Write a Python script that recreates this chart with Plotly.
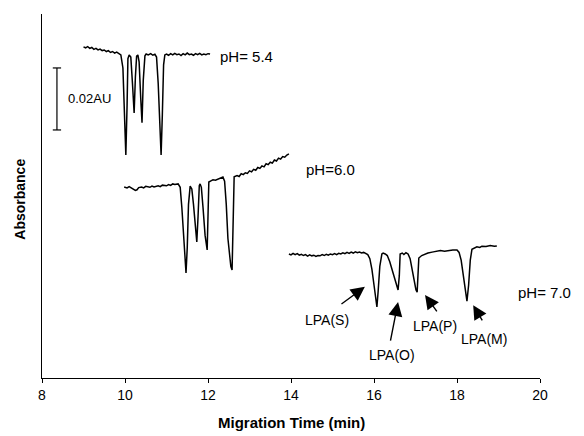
import plotly.graph_objects as go

# ---- data (migration time in min, absorbance in mAU, offset traces) ----
t_54 = [9.00, 9.05, 9.10, 9.15, 9.20, 9.25, 9.30, 9.35, 9.40, 9.45, 9.50, 9.55, 9.60, 9.65,
        9.70, 9.75, 9.80, 9.85, 9.90, 9.95, 9.98, 10.02, 10.05, 10.07, 10.10, 10.14, 10.18,
        10.22, 10.25, 10.28, 10.31, 10.34, 10.38, 10.41, 10.44, 10.48, 10.51, 10.56, 10.62,
        10.67, 10.72, 10.76, 10.80, 10.84, 10.87, 10.90, 10.93, 10.96, 11.00, 11.05, 11.10,
        11.15, 11.20, 11.25, 11.30, 11.35, 11.40, 11.45, 11.50, 11.55, 11.60, 11.65, 11.70,
        11.75, 11.80, 11.85, 11.90, 11.95, 12.00, 12.05]
a_54 = [106.8, 106.5, 106.9, 106.3, 106.6, 106.0, 106.3, 105.8, 106.1, 105.6, 105.8, 105.3,
        105.6, 105.0, 105.3, 104.8, 105.1, 104.6, 104.2, 100.0, 88.0, 71.9, 88.0, 103.0, 104.2,
        103.5, 95.0, 85.5, 97.0, 103.8, 104.2, 102.0, 90.0, 82.3, 96.0, 103.9, 104.5, 104.2,
        104.6, 104.1, 104.4, 103.5, 95.0, 82.0, 71.9, 85.0, 101.0, 104.2, 104.5, 104.1, 104.6,
        104.2, 104.7, 104.3, 104.5, 104.0, 104.6, 104.2, 104.8, 104.3, 104.5, 104.1, 104.6,
        104.3, 104.7, 104.2, 104.5, 104.3, 104.6, 104.5]

t_60 = [9.98, 10.05, 10.10, 10.15, 10.20, 10.25, 10.29, 10.33, 10.40, 10.45, 10.50, 10.60,
        10.65, 10.70, 10.80, 10.85, 10.90, 11.00, 11.05, 11.10, 11.15, 11.20, 11.28, 11.33,
        11.37, 11.41, 11.44, 11.47, 11.50, 11.53, 11.57, 11.61, 11.65, 11.70, 11.73, 11.76,
        11.79, 11.81, 11.84, 11.88, 11.93, 11.98, 12.00, 12.02, 12.07, 12.12, 12.18, 12.24,
        12.30, 12.36, 12.40, 12.44, 12.48, 12.52, 12.55, 12.58, 12.61, 12.63, 12.70, 12.75,
        12.80, 12.85, 12.90, 12.95, 13.00, 13.05, 13.10, 13.15, 13.20, 13.25, 13.30, 13.35,
        13.40, 13.45, 13.50, 13.55, 13.60, 13.65, 13.70, 13.75, 13.80, 13.85, 13.90, 13.95]
a_60 = [61.6, 61.3, 61.7, 61.2, 61.0, 60.5, 60.7, 61.4, 61.6, 61.3, 61.8, 61.5, 61.9, 61.6,
        62.0, 61.7, 62.2, 62.0, 62.4, 62.1, 62.6, 62.4, 62.6, 61.5, 55.0, 45.0, 38.0, 33.9,
        42.0, 56.0, 61.9, 61.0, 56.0, 48.0, 43.9, 52.0, 62.0, 62.6, 61.5, 55.0, 46.0, 41.3,
        50.0, 63.2, 63.6, 63.9, 63.8, 64.2, 64.6, 64.8, 63.5, 56.0, 45.0, 40.0, 36.0, 34.8,
        48.0, 64.9, 65.3, 65.0, 65.9, 65.6, 66.2, 66.0, 66.8, 66.5, 67.3, 67.0, 67.9, 67.6,
        68.4, 68.1, 69.1, 68.8, 69.6, 69.3, 70.3, 70.0, 70.9, 70.6, 71.4, 71.2, 71.9, 72.3]

t_70 = [13.95, 14.00, 14.05, 14.10, 14.15, 14.20, 14.25, 14.30, 14.35, 14.40, 14.45, 14.50,
        14.55, 14.60, 14.65, 14.70, 14.75, 14.80, 14.85, 14.90, 14.95, 15.00, 15.05, 15.10,
        15.15, 15.20, 15.25, 15.30, 15.35, 15.40, 15.45, 15.50, 15.55, 15.60, 15.65, 15.70,
        15.75, 15.80, 15.85, 15.90, 15.95, 16.00, 16.04, 16.07, 16.10, 16.14, 16.19, 16.22,
        16.27, 16.32, 16.38, 16.45, 16.52, 16.58, 16.61, 16.63, 16.68, 16.72, 16.77, 16.82,
        16.87, 16.92, 16.97, 17.01, 17.04, 17.06, 17.08, 17.15, 17.22, 17.30, 17.40, 17.50,
        17.60, 17.70, 17.80, 17.90, 18.00, 18.05, 18.10, 18.15, 18.20, 18.24, 18.28, 18.32,
        18.36, 18.42, 18.48, 18.55, 18.60, 18.70, 18.80, 18.90, 18.96]
a_70 = [40.0, 39.7, 40.2, 39.8, 40.1, 39.6, 39.9, 39.5, 39.8, 39.3, 39.7, 39.4, 39.6, 39.2,
        39.5, 39.4, 39.8, 39.5, 39.9, 39.6, 40.0, 39.8, 40.1, 39.8, 40.2, 40.0, 40.4, 40.1,
        40.5, 40.2, 40.6, 40.3, 40.7, 40.4, 40.6, 40.3, 40.5, 40.2, 39.8, 38.5, 35.0, 30.0,
        26.0, 22.9, 28.0, 36.0, 40.0, 40.3, 40.0, 39.5, 37.5, 34.0, 30.5, 28.4, 33.0, 40.0,
        40.3, 39.8, 40.4, 40.0, 38.5, 35.0, 31.0, 28.5, 27.7, 33.0, 38.7, 39.5, 40.0, 40.3,
        40.6, 40.8, 41.1, 40.9, 41.2, 41.3, 41.3, 40.5, 38.0, 33.0, 28.0, 24.8, 30.0, 38.0,
        41.5, 42.0, 42.3, 42.1, 42.5, 42.4, 42.7, 42.5, 42.6]

x_ticks = [8, 10, 12, 14, 16, 18, 20]

ph_labels = ["pH= 5.4", "pH=6.0", "pH= 7.0"]
ph_x = [12.24, 14.31, 19.42]
ph_y = [103.6, 67.1, 27.7]

peak_names = ["LPA(S)", "LPA(O)", "LPA(P)", "LPA(M)"]
name_x = [14.87, 16.43, 17.47, 18.65]
name_y = [18.7, 7.4, 16.8, 12.6]
arrow_tail_x = [15.18, 16.39, 17.54, 18.63]
arrow_tail_y = [23.5, 11.6, 21.0, 18.1]
arrow_head_x = [15.78, 16.58, 17.23, 18.39]
arrow_head_y = [29.4, 24.5, 26.8, 23.5]

scale_bar_x = 8.36
scale_bar_lo, scale_bar_hi = 80.0, 100.0
scale_bar_text = "0.02AU"

FONT = "Liberation Sans, Arial, Helvetica, sans-serif"

fig = go.Figure()
for tt, aa in [(t_54, a_54), (t_60, a_60), (t_70, a_70)]:
    fig.add_trace(go.Scatter(x=tt, y=aa, mode="lines",
                             line=dict(color="black", width=1.5),
                             showlegend=False, hoverinfo="skip"))

# scale bar
fig.add_shape(type="line", xref="x", yref="y", x0=scale_bar_x, x1=scale_bar_x,
              y0=scale_bar_lo, y1=scale_bar_hi, line=dict(color="black", width=1.2))
for yv in (scale_bar_lo, scale_bar_hi):
    fig.add_shape(type="line", xref="x", yref="y", x0=scale_bar_x - 0.1, x1=scale_bar_x + 0.1,
                  y0=yv, y1=yv, line=dict(color="black", width=1.2))

annotations = []
annotations.append(dict(x=scale_bar_x + 0.22, y=(scale_bar_lo + scale_bar_hi) / 2, xref="x", yref="y",
                        text=scale_bar_text, showarrow=False, xanchor="left", yanchor="middle",
                        font=dict(family=FONT, size=13, color="black")))
for txt, xx, yy in zip(ph_labels, ph_x, ph_y):
    annotations.append(dict(x=xx, y=yy, xref="x", yref="y", text=txt, showarrow=False,
                            xanchor="left", yanchor="middle",
                            font=dict(family=FONT, size=15, color="black")))
for txt, xx, yy in zip(peak_names, name_x, name_y):
    annotations.append(dict(x=xx, y=yy, xref="x", yref="y", text=txt, showarrow=False,
                            xanchor="center", yanchor="middle",
                            font=dict(family=FONT, size=14, color="black")))
for tx, ty, hx, hy in zip(arrow_tail_x, arrow_tail_y, arrow_head_x, arrow_head_y):
    annotations.append(dict(x=hx, y=hy, ax=tx, ay=ty, xref="x", yref="y", axref="x", ayref="y",
                            text="", showarrow=True, arrowhead=2, arrowsize=2.0,
                            arrowwidth=1.4, arrowcolor="black"))
annotations.append(dict(x=-0.044, y=0.49, xref="paper", yref="paper", text="<b>Absorbance</b>",
                        showarrow=False, textangle=-90, xanchor="center", yanchor="middle",
                        font=dict(family=FONT, size=14, color="black")))
annotations.append(dict(x=0.5, y=-0.121, xref="paper", yref="paper",
                        text="<b>Migration Time (min)</b>", showarrow=False,
                        xanchor="center", yanchor="middle",
                        font=dict(family=FONT, size=15, color="black")))

fig.update_layout(
    width=584, height=436,
    margin=dict(l=42, r=44, t=14, b=58),
    paper_bgcolor="white", plot_bgcolor="white",
    annotations=annotations,
    xaxis=dict(range=[8, 20], tickvals=x_ticks, ticktext=[str(v) for v in x_ticks],
               showline=True, linecolor="black", linewidth=1, ticks="outside", ticklen=4,
               tickcolor="black", showgrid=False, zeroline=False,
               tickfont=dict(family=FONT, size=14, color="black")),
    yaxis=dict(range=[0, 117.4], showline=True, linecolor="black", linewidth=1,
               showticklabels=False, ticks="", showgrid=False, zeroline=False),
)

fig.write_html("out.html", config={"displayModeBar": False},
               post_script="document.body.style.margin='0';document.body.style.overflow='hidden';")
